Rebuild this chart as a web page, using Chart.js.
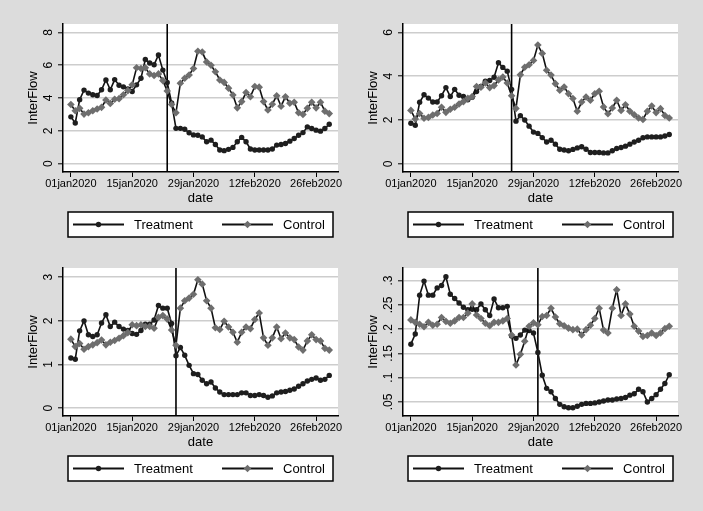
<!DOCTYPE html>
<html>
<head>
<meta charset="utf-8">
<script src="https://cdn.jsdelivr.net/npm/chart.js@4.4.1/dist/chart.umd.min.js"></script>
<style>
  html, body { margin: 0; padding: 0; background: #dcdcdc; }
  body { width: 703px; height: 511px; position: relative; overflow: hidden; }
  canvas { position: absolute; }
</style>
</head>
<body>
<canvas id="p1" width="346" height="244" style="left:0px;top:0px"></canvas>
<canvas id="p2" width="346" height="244" style="left:340px;top:0px"></canvas>
<canvas id="p3" width="346" height="244" style="left:0px;top:244px"></canvas>
<canvas id="p4" width="346" height="244" style="left:340px;top:244px"></canvas>
<script>
// days since 01jan2020 (01jan .. 29feb)
const days = Array.from({ length: 60 }, (_, i) => i);
const tickDays = [0, 14, 28, 42, 56];
const tickLabels = ['01jan2020', '15jan2020', '29jan2020', '12feb2020', '26feb2020'];
const seriesNames = ['Treatment', 'Control'];

// panel 1 (top left)
const treat1 = [2.85, 2.48, 3.9, 4.48, 4.3, 4.2, 4.15, 4.5, 5.1, 4.5, 5.12, 4.78, 4.68, 4.55, 4.4, 4.8, 5.2, 6.35, 6.13, 6.03,
  6.62, 5.7, 4.95, 3.7, 2.15, 2.15, 2.1, 1.88, 1.75, 1.73, 1.63, 1.33, 1.43, 1.17, 0.83, 0.79, 0.87, 0.99, 1.33, 1.6,
  1.33, 0.89, 0.83, 0.83, 0.83, 0.83, 0.89, 1.13, 1.17, 1.23, 1.37, 1.53, 1.73, 1.89, 2.24, 2.14, 2.04, 1.98, 2.14, 2.4];
const ctrl1 = [3.6, 3.22, 3.37, 3.02, 3.1, 3.22, 3.33, 3.43, 3.88, 3.67, 3.92, 3.96, 4.2, 4.45, 4.8, 5.84, 5.8, 5.84, 5.47, 5.37,
  5.47, 5.06, 4.43, 3.6, 3.1, 4.9, 5.2, 5.4, 5.8, 6.85, 6.8, 6.2, 6.0, 5.6, 5.1, 4.95, 4.6, 4.18, 3.4, 3.78,
  4.33, 4.08, 4.7, 4.66, 3.78, 3.27, 3.62, 4.14, 3.5, 4.08, 3.68, 3.74, 3.1, 3.0, 3.37, 3.74, 3.4, 3.74, 3.2, 3.05];
const yTicks1 = [0, 2, 4, 6, 8];

// panel 2 (top right)
const treat2 = [1.85, 1.76, 2.81, 3.15, 3.0, 2.82, 2.82, 3.11, 3.48, 3.07, 3.4, 3.13, 3.07, 2.92, 3.04, 3.3, 3.53, 3.77, 3.8, 3.95,
  4.61, 4.4, 4.23, 3.4, 1.95, 2.2, 2.0, 1.72, 1.45, 1.39, 1.2, 1.0, 1.08, 0.9, 0.67, 0.63, 0.6, 0.66, 0.73, 0.78,
  0.67, 0.52, 0.52, 0.52, 0.5, 0.5, 0.6, 0.7, 0.75, 0.81, 0.9, 1.0, 1.08, 1.19, 1.23, 1.23, 1.23, 1.23, 1.27, 1.34];
const ctrl2 = [2.44, 2.05, 2.3, 2.08, 2.12, 2.23, 2.3, 2.58, 2.35, 2.49, 2.58, 2.73, 2.84, 2.99, 3.07, 3.53, 3.5, 3.69, 3.48, 3.57,
  3.83, 3.96, 3.69, 3.11, 2.53, 4.06, 4.41, 4.52, 4.72, 5.42, 5.04, 4.27, 4.05, 3.66, 3.36, 3.51, 3.2, 2.98, 2.4, 2.82,
  3.05, 2.9, 3.2, 3.31, 2.6, 2.29, 2.55, 2.9, 2.44, 2.7, 2.4, 2.24, 2.09, 2.03, 2.4, 2.64, 2.34, 2.52, 2.21, 2.09];
const yTicks2 = [0, 2, 4, 6];

// panel 3 (bottom left)
const treat3 = [1.15, 1.12, 1.77, 2.0, 1.68, 1.64, 1.68, 1.95, 2.14, 1.87, 1.97, 1.87, 1.81, 1.78, 1.71, 1.69, 1.78, 1.92, 1.92, 2.02,
  2.35, 2.29, 2.29, 1.94, 1.2, 1.39, 1.21, 0.98, 0.79, 0.77, 0.64, 0.56, 0.6, 0.46, 0.37, 0.31, 0.31, 0.31, 0.31, 0.35,
  0.35, 0.29, 0.29, 0.31, 0.29, 0.25, 0.28, 0.35, 0.37, 0.38, 0.41, 0.44, 0.5, 0.56, 0.62, 0.66, 0.69, 0.64, 0.66, 0.75];
const ctrl3 = [1.58, 1.41, 1.48, 1.35, 1.41, 1.45, 1.5, 1.56, 1.45, 1.51, 1.55, 1.6, 1.66, 1.73, 1.91, 1.89, 1.91, 1.87, 1.87, 1.83,
  2.08, 2.12, 2.04, 1.79, 1.44, 2.29, 2.46, 2.52, 2.61, 2.94, 2.84, 2.46, 2.29, 1.84, 1.8, 1.99, 1.86, 1.74, 1.51, 1.74,
  1.86, 1.82, 2.03, 2.18, 1.61, 1.44, 1.61, 1.86, 1.59, 1.72, 1.61, 1.57, 1.4, 1.33, 1.54, 1.68, 1.57, 1.54, 1.37, 1.33];
const yTicks3 = [0, 1, 2, 3];

// panel 4 (bottom right)
const treat4 = [0.169, 0.19, 0.27, 0.299, 0.27, 0.27, 0.285, 0.29, 0.308, 0.272, 0.263, 0.254, 0.245, 0.24, 0.241, 0.24, 0.252, 0.24, 0.228, 0.262,
  0.244, 0.244, 0.247, 0.186, 0.181, 0.188, 0.198, 0.197, 0.192, 0.152, 0.105, 0.078, 0.071, 0.057, 0.045, 0.04, 0.038, 0.038, 0.041, 0.045,
  0.047, 0.047, 0.048, 0.05, 0.052, 0.054, 0.054, 0.056, 0.057, 0.059, 0.064, 0.067, 0.076, 0.071, 0.05, 0.057, 0.065, 0.076, 0.088, 0.106];
const ctrl4 = [0.219, 0.214, 0.21, 0.205, 0.214, 0.208, 0.21, 0.224, 0.216, 0.212, 0.217, 0.224, 0.224, 0.233, 0.252, 0.229, 0.222, 0.212, 0.207, 0.214,
  0.214, 0.217, 0.222, 0.188, 0.126, 0.148, 0.175, 0.206, 0.213, 0.209, 0.226, 0.228, 0.243, 0.225, 0.211, 0.207, 0.202, 0.199, 0.2, 0.188,
  0.199, 0.208, 0.222, 0.243, 0.198, 0.192, 0.243, 0.281, 0.228, 0.252, 0.231, 0.206, 0.196, 0.185, 0.187, 0.192, 0.187, 0.192, 0.201, 0.206];
const yTicks4 = [0.05, 0.1, 0.15, 0.2, 0.25, 0.3];

// vertical reference line (day index) for each panel
const vlineDays = [22, 23, 24, 29];

const FONT = "'Liberation Sans', Arial, Helvetica, sans-serif";

// stata style number: .05 instead of 0.05
function stataNum(v) {
  let s = String(Math.round(v * 1000) / 1000);
  if (s.startsWith('0.')) s = s.slice(1);
  return s;
}

function drawMarker(ctx, style, x, y, r, color) {
  ctx.fillStyle = color;
  ctx.beginPath();
  if (style === 'circle') {
    ctx.arc(x, y, r, 0, Math.PI * 2);
  } else {
    ctx.moveTo(x, y - r);
    ctx.lineTo(x + r, y);
    ctx.lineTo(x, y + r);
    ctx.lineTo(x - r, y);
    ctx.closePath();
  }
  ctx.fill();
}

const stataPlugin = {
  id: 'stata',
  beforeDraw(chart) {
    const { ctx, chartArea: a } = chart;
    ctx.save();
    ctx.fillStyle = '#ffffff';
    ctx.fillRect(a.left, a.top, a.right - a.left, a.bottom - a.top);
    ctx.restore();
  },
  beforeDatasetsDraw(chart, args, opts) {
    const { ctx, chartArea: a, scales } = chart;
    const x = scales.x.getPixelForValue(opts.vline);
    ctx.save();
    ctx.strokeStyle = '#000';
    ctx.lineWidth = 1.6;
    ctx.beginPath();
    ctx.moveTo(x, a.top);
    ctx.lineTo(x, a.bottom);
    ctx.stroke();
    ctx.restore();
  },
  afterDraw(chart, args, opts) {
    const { ctx, scales } = chart;
    const ys = scales.y;
    // rotated y tick labels
    ctx.save();
    ctx.fillStyle = '#000';
    ctx.font = '12px ' + FONT;
    ctx.textAlign = 'center';
    ctx.textBaseline = 'middle';
    opts.yTicks.forEach(v => {
      const py = ys.getPixelForValue(v);
      ctx.save();
      ctx.translate(ys.right - 14.5, py);
      ctx.rotate(-Math.PI / 2);
      ctx.fillText(stataNum(v), 0, 0);
      ctx.restore();
    });
    ctx.restore();

    // legend box
    const bx = 68, by = 212, bw = 265, bh = 25;
    ctx.save();
    ctx.fillStyle = '#fff';
    ctx.fillRect(bx, by, bw, bh);
    ctx.strokeStyle = '#000';
    ctx.lineWidth = 1.5;
    ctx.strokeRect(bx, by, bw, bh);
    const cy = by + bh / 2;
    chart.data.datasets.forEach((ds, i) => {
      const x0 = bx + 5 + i * 149;
      ctx.strokeStyle = ds.borderColor;
      ctx.lineWidth = 1.8;
      ctx.beginPath();
      ctx.moveTo(x0, cy);
      ctx.lineTo(x0 + 51, cy);
      ctx.stroke();
      drawMarker(ctx, ds.pointStyle, x0 + 25.5, cy, ds.pointRadius, ds.pointBackgroundColor);
      ctx.fillStyle = '#000';
      ctx.font = '13px ' + FONT;
      ctx.textAlign = 'left';
      ctx.textBaseline = 'middle';
      ctx.fillText(ds.label, x0 + 61, cy + 0.5);
    });
    ctx.restore();
  }
};

function makePanel(id, treat, ctrl, yMin, yMax, yTicks, vline) {
  const ctx = document.getElementById(id).getContext('2d');
  return new Chart(ctx, {
    type: 'line',
    data: {
      datasets: [
        {
          label: seriesNames[0],
          data: days.map((d, i) => ({ x: d, y: treat[i] })),
          borderColor: '#111111',
          borderWidth: 1.6,
          pointStyle: 'circle',
          pointRadius: 2.7,
          pointBackgroundColor: '#1e1e1e',
          pointBorderWidth: 0,
          tension: 0,
          order: 1
        },
        {
          label: seriesNames[1],
          data: days.map((d, i) => ({ x: d, y: ctrl[i] })),
          borderColor: '#111111',
          borderWidth: 1.6,
          pointStyle: 'rectRot',
          pointRadius: 3.8,
          pointBackgroundColor: '#6e6e6e',
          pointBorderWidth: 0,
          tension: 0,
          order: 0
        }
      ]
    },
    options: {
      responsive: false,
      animation: false,
      events: [],
      layout: { padding: { top: 24, left: 0, right: 8, bottom: 38 } },
      plugins: {
        legend: { display: false },
        tooltip: { enabled: false },
        stata: { vline: vline, yTicks: yTicks }
      },
      scales: {
        x: {
          type: 'linear',
          min: -1.8,
          max: 61,
          afterBuildTicks: (scale) => { scale.ticks = tickDays.map(v => ({ value: v })); },
          afterFit: (scale) => { scale.height = 34; },
          ticks: {
            autoSkip: false,
            maxRotation: 0,
            minRotation: 0,
            padding: 0,
            color: '#000',
            font: { family: FONT, size: 11 },
            callback: (v) => tickLabels[tickDays.indexOf(v)] || ''
          },
          grid: { display: true, drawOnChartArea: false, drawTicks: true, tickLength: 5, color: '#000', lineWidth: 1 },
          border: { display: true, color: '#000', width: 1.5 },
          title: { display: true, text: 'date', color: '#000', font: { family: FONT, size: 13 }, padding: { top: 0, bottom: 0 } }
        },
        y: {
          type: 'linear',
          min: yMin,
          max: yMax,
          afterBuildTicks: (scale) => { scale.ticks = yTicks.map(v => ({ value: v })); },
          afterFit: (scale) => { scale.width = 63; },
          ticks: { display: false },
          grid: { color: '#cdcdcd', lineWidth: 1.6, drawTicks: true, tickLength: 5, tickColor: '#000', tickWidth: 1 },
          border: { display: true, color: '#000', width: 1.5 },
          title: { display: true, text: 'InterFlow', color: '#000', font: { family: FONT, size: 13 }, padding: { top: 26, bottom: 0 } }
        }
      }
    },
    plugins: [stataPlugin]
  });
}

makePanel('p1', treat1, ctrl1, -0.51, 8.51, yTicks1, vlineDays[0]);
makePanel('p2', treat2, ctrl2, -0.37, 6.38, yTicks2, vlineDays[1]);
makePanel('p3', treat3, ctrl3, -0.18, 3.21, yTicks3, vlineDays[2]);
makePanel('p4', treat4, ctrl4, 0.021, 0.326, yTicks4, vlineDays[3]);
</script>
</body>
</html>
